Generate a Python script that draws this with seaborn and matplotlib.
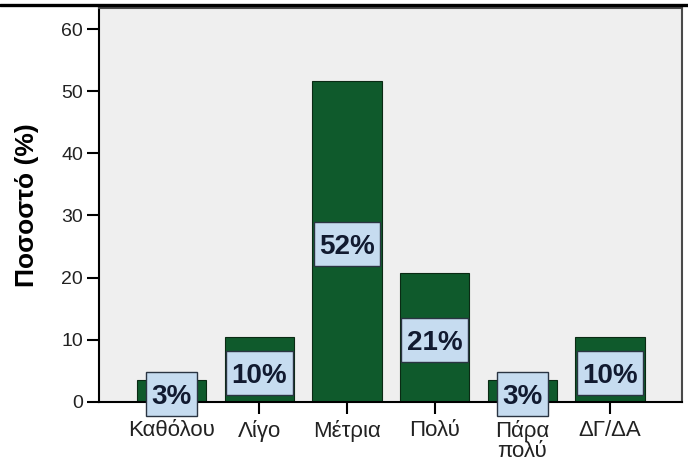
import matplotlib
matplotlib.use("Agg")
import matplotlib.pyplot as plt
from matplotlib.lines import Line2D
from matplotlib.patches import Rectangle
from matplotlib.transforms import offset_copy
import seaborn as sns
import pandas as pd

# Response categories and their share of respondents (n = 29)
categories = ["Καθόλου", "Λίγο", "Μέτρια", "Πολύ", "Πάρα\nπολύ", "ΔΓ/ΔΑ"]
counts = [1, 3, 15, 6, 1, 3]
total = sum(counts)
percentages = [100 * c / total for c in counts]
y_ticks = [0, 10, 20, 30, 40, 50, 60]

sns.set_style("white")
plt.rcParams["font.family"] = ["Liberation Sans", "DejaVu Sans"]

df = pd.DataFrame({"category": categories, "percent": percentages})

DPI = 100
fig = plt.figure(figsize=(6.88, 4.66), dpi=DPI)
fig.patch.set_facecolor("white")
ax = fig.add_axes([99 / 688, 1 - 401.7 / 466, (682 - 99) / 688, (401.7 - 8) / 466])
ax.set_facecolor("#efefef")

sns.barplot(data=df, x="category", y="percent", color="#0f5a2c", width=0.79,
            saturation=1, edgecolor="#0a2a14", linewidth=0.8, ax=ax, zorder=2)

ax.set_xlim(-0.83, len(categories) - 1 + 0.82)
ax.set_ylim(0, 63.4)
ax.set_yticks(y_ticks)
ax.set_xlabel("")
ax.set_ylabel("")

for side in ["left", "bottom"]:
    ax.spines[side].set_color("black")
    ax.spines[side].set_linewidth(1.5)
for side in ["top", "right"]:
    ax.spines[side].set_color("#4a4a4a")
    ax.spines[side].set_linewidth(1.5)

ax.tick_params(axis="y", direction="out", length=8.5, width=1.5, color="black",
               labelsize=14, pad=3, left=True, labelcolor="#222222")
ax.tick_params(axis="x", direction="out", length=8.5, width=1.5, color="black",
               labelsize=16, pad=4.5, bottom=True, labelcolor="#222222")
for lbl in ax.get_xticklabels():
    lbl.set_multialignment("center")
    lbl.set_linespacing(0.95)

fig.text(27 / 688, 1 - 205 / 466, "Ποσοστό (%)", rotation=90, ha="center", va="center",
         fontsize=19, fontweight="bold", color="black")

# Heavy rule across the top of the figure
fig.add_artist(Line2D([0, 1], [1 - 4.5 / 466] * 2, transform=fig.transFigure,
                      color="black", linewidth=2.4))

# Percentage labels in boxes at the middle of each bar
label_size = 20
cap_px = 0.716 * label_size * DPI / 72
shift_px = 3
labels = []
for i, v in enumerate(percentages):
    tr = offset_copy(ax.transData, fig=fig, x=0, y=-(shift_px + cap_px / 2), units="dots")
    t = ax.text(i, v / 2, f"{v:.0f}%", transform=tr, ha="center", va="baseline",
                fontsize=label_size, fontweight="bold", color="#111a30", zorder=6,
                clip_on=False)
    labels.append(t)

fig.canvas.draw()
renderer = fig.canvas.get_renderer()
inv = ax.transData.inverted()
for i, (v, t) in enumerate(zip(percentages, labels)):
    w = t.get_window_extent(renderer).width
    cx, cy = ax.transData.transform((i, v / 2))
    cy -= shift_px
    x0, y0 = inv.transform((cx - w / 2 - 5.5, cy - 22))
    x1, y1 = inv.transform((cx + w / 2 + 5.5, cy + 22))
    ax.add_patch(Rectangle((x0, y0), x1 - x0, y1 - y0, facecolor="#c6dcf0",
                           edgecolor="#2a3442", linewidth=1.0, zorder=5, clip_on=False))

fig.savefig("out.png", dpi=DPI)
